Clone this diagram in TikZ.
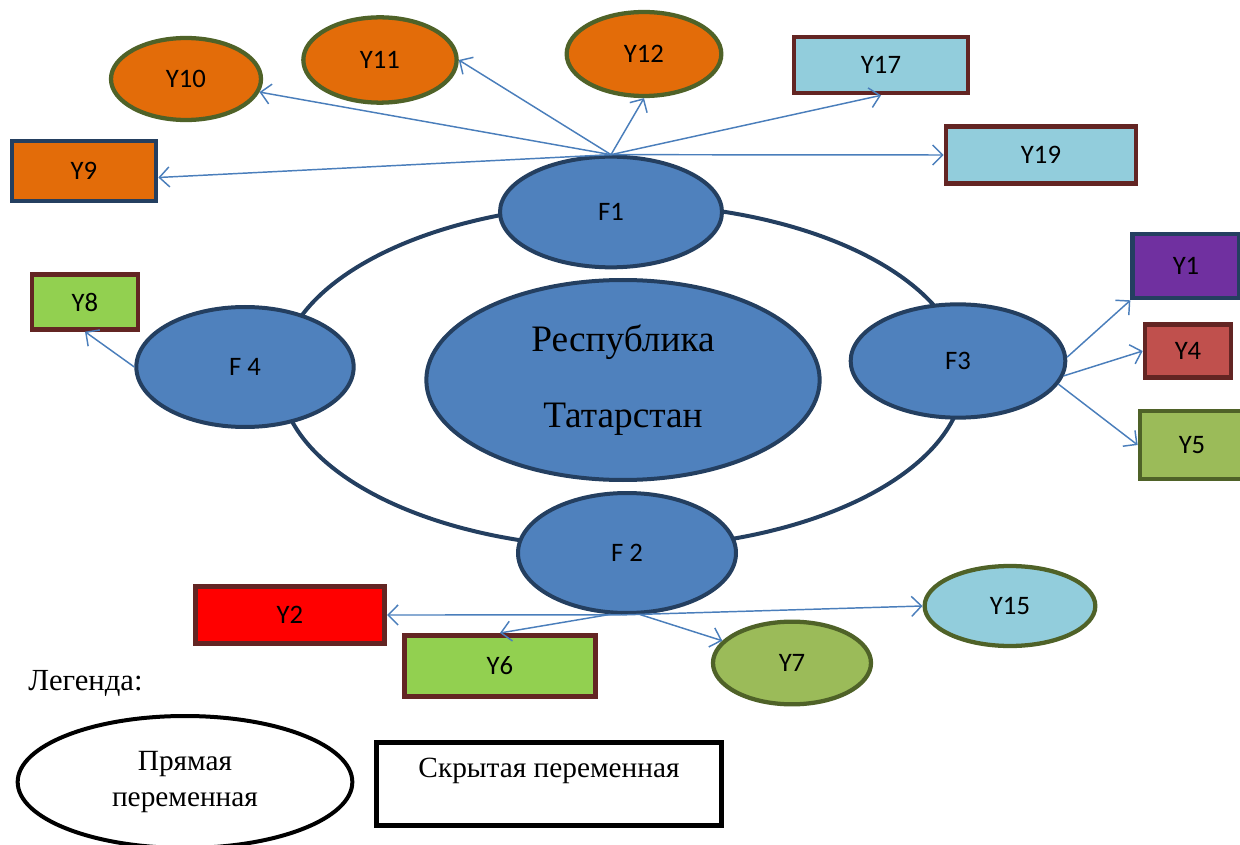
\documentclass[tikz,border=0pt]{standalone}
\usepackage{fontspec}
\setmainfont{Liberation Serif}
\newfontfamily\calfont{Carlito}
\usetikzlibrary{shapes.geometric,arrows.meta}

\definecolor{fFill}{RGB}{79,129,189}
\definecolor{fEdge}{RGB}{36,63,96}
\definecolor{arrBlue}{RGB}{74,126,187}
\definecolor{orangeFill}{RGB}{227,108,9}
\definecolor{oliveEdge}{RGB}{79,98,40}
\definecolor{aquaFill}{RGB}{146,205,220}
\definecolor{brownEdge}{RGB}{99,37,35}
\definecolor{limeFill}{RGB}{146,208,80}
\definecolor{oliveFill}{RGB}{155,187,89}
\definecolor{roseFill}{RGB}{192,80,77}
\definecolor{purpleFill}{RGB}{112,48,160}

\tikzset{every picture/.style={line width=0.75pt}}
\tikzset{
  factor/.style={ellipse,draw=fEdge,fill=fFill,line width=3pt,inner sep=0pt,font=\calfont\fontsize{20}{24}\selectfont},
  yoval/.style={ellipse,line width=3.2pt,inner sep=0pt,font=\calfont\fontsize{20}{24}\selectfont},
  ybox/.style={rectangle,line width=3.5pt,inner sep=0pt,font=\calfont\fontsize{20}{24}\selectfont},
  link/.style={draw=arrBlue,line width=1.1pt,-{Straight Barb[length=7.5pt,width=15pt]}}
}

\begin{document}
\begin{tikzpicture}[x=0.75pt,y=0.75pt,yscale=-1,xscale=1]
\useasboundingbox (0,0) rectangle (1240,845);

%Ring round the centre
\draw [fEdge,line width=3pt] (622,376) ellipse (342 and 172);

%Centre
\node [factor,minimum width=295pt,minimum height=150pt,font=\fontsize{28}{57}\selectfont,align=center] (rt) at (623,380) {Республика\\Татарстан};

%Factors
\node [factor,minimum width=166.5pt,minimum height=83pt] (F1) at (611,212) {F1};
\node [factor,minimum width=163.5pt,minimum height=90pt] (F2) at (627,553) {F 2};
\node [factor,minimum width=161pt,minimum height=85pt] (F3) at (958,361) {F3};
\node [factor,minimum width=163pt,minimum height=90pt] (F4) at (245,367) {F 4};

%Indicators of F1
\node [yoval,draw=oliveEdge,fill=orangeFill,minimum width=112.5pt,minimum height=61.5pt] (Y10) at (186,79) {Y10};
\node [yoval,draw=oliveEdge,fill=orangeFill,minimum width=115pt,minimum height=64pt] (Y11) at (380,60) {Y11};
\node [yoval,draw=oliveEdge,fill=orangeFill,minimum width=116pt,minimum height=63pt] (Y12) at (644,54) {Y12};
\node [ybox,draw=fEdge,fill=orangeFill,minimum width=108pt,minimum height=45pt] (Y9) at (84,171) {Y9};
\node [ybox,draw=brownEdge,fill=aquaFill,minimum width=130.5pt,minimum height=42pt] (Y17) at (881,65) {Y17};
\node [ybox,draw=brownEdge,fill=aquaFill,minimum width=142.5pt,minimum height=43pt] (Y19) at (1041,155) {Y19};

%Indicators of F3
\node [ybox,draw=fEdge,fill=purpleFill,minimum width=80pt,minimum height=48pt] (Y1) at (1186,266) {Y1};
\node [ybox,draw=brownEdge,fill=roseFill,minimum width=64.5pt,minimum height=40pt] (Y4) at (1188,351) {Y4};
\node [ybox,draw=oliveEdge,fill=oliveFill,minimum width=78pt,minimum height=51pt] (Y5) at (1192,445) {Y5};

%Indicator of F4
\node [ybox,draw=brownEdge,fill=limeFill,minimum width=79.5pt,minimum height=41pt] (Y8) at (85,302) {Y8};

%Indicators of F2
\node [ybox,draw=brownEdge,fill=red,minimum width=142pt,minimum height=43pt] (Y2) at (290,615) {Y2};
\node [ybox,draw=brownEdge,fill=limeFill,minimum width=143pt,minimum height=46pt] (Y6) at (500,666) {Y6};
\node [yoval,draw=oliveEdge,fill=oliveFill,minimum width=118.5pt,minimum height=62pt] (Y7) at (792,663) {Y7};
\node [yoval,draw=oliveEdge,fill=aquaFill,minimum width=128pt,minimum height=60pt] (Y15) at (1010,606) {Y15};

%Arrows
\draw [link] (F1.north) -- (Y9.-5);
\draw [link] (F1.north) -- (Y10);
\draw [link] (F1.north) -- (Y11.east);
\draw [link] (F1.north) -- (Y12.south);
\draw [link] (F1.north) -- (Y17.south);
\draw [link] (F1.north) -- (Y19.west);
\draw [link] (F3.2) -- (Y1.south west);
\draw [link] (F3.-8) -- (Y4.west);
\draw [link] (F3.-13) -- (Y5.west);
\draw [link] (F4.west) -- (Y8.south);
\draw [link] (F2.-95) -- (Y2.east);
\draw [link] (F2.-95) -- (Y15.west);
\draw [link] (F2.-105) -- (Y6.north);
\draw [link] (F2.-78) -- (Y7);

%Legend
\node [anchor=west,inner sep=0pt,font=\fontsize{23}{26}\selectfont] (legtitle) at (28,683) {Легенда:};
\node [ellipse,draw=black,line width=3pt,minimum width=251pt,minimum height=99pt,inner sep=0pt,align=center,font=\fontsize{22}{27}\selectfont] (legoval) at (185,782) {Прямая\\переменная};
\node [rectangle,draw=black,line width=3.5pt,minimum width=259pt,minimum height=62pt,inner sep=0pt,text depth=24pt,font=\fontsize{22}{26}\selectfont] (legbox) at (549,784) {Скрытая переменная};

\end{tikzpicture}
\end{document}
